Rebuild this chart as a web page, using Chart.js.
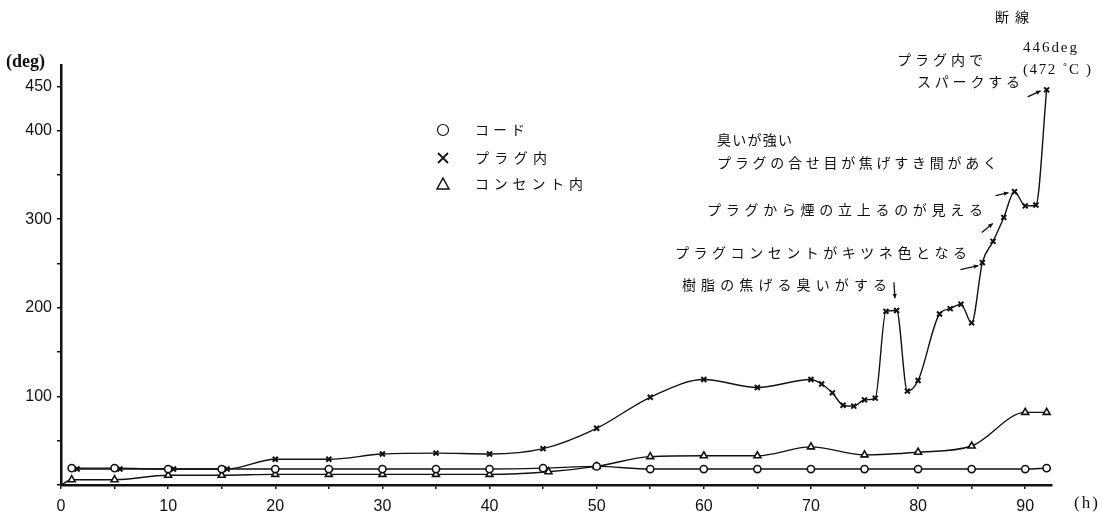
<!DOCTYPE html>
<html><head><meta charset="utf-8">
<script src="https://cdn.jsdelivr.net/npm/chart.js@4.4.1/dist/chart.umd.min.js"></script>
<style>html,body{margin:0;padding:0;background:#fff;} #wrap{width:1109px;height:518px;}</style>
</head><body><div id="wrap"><canvas id="c" width="1109" height="518"></canvas></div>
<script>
const seriesLabels = ['コード', 'プラグ内', 'コンセント内'];
const cordTimes   = [1, 5, 10, 15, 20, 25, 30, 35, 40, 45, 50, 55, 60, 65, 70, 75, 80, 85, 90, 92];
const cordValues  = [19, 19, 18, 18, 18, 18, 18, 18, 18, 19, 21, 18, 18, 18, 18, 18, 18, 18, 18, 19];
const plugTimes   = [1.5, 5.5, 10.5, 15.5, 20, 25, 30, 35, 40, 45, 50, 55, 60, 65, 70, 71, 72, 73, 74, 75, 76, 77, 78, 79, 80, 82, 83, 84, 85, 86, 87, 88, 89, 90, 91, 92];
const plugValues  = [18, 18, 18, 18, 29, 29, 35, 36, 35, 41, 64, 99, 119, 110, 119, 114, 104, 90, 89, 96, 98, 196, 197, 106, 118, 193, 199, 204, 183, 251, 275, 302, 331, 315, 316, 446];
const outletTimes = [0, 1, 5, 10, 15, 20, 25, 30, 35, 40, 45.5, 50, 55, 60, 65, 70, 75, 80, 85, 90, 92];
const outletValues= [0, 6, 6, 11, 11, 12, 12, 12, 12, 12, 15, 21, 32, 33, 33, 43, 34, 37, 44, 82, 82];
const xTickValues = [0, 5, 10, 15, 20, 25, 30, 35, 40, 45, 50, 55, 60, 65, 70, 75, 80, 85, 90];
const xTickLabels = ['0', '', '10', '', '20', '', '30', '', '40', '', '50', '', '60', '', '70', '', '80', '', '90'];
const yTickValues = [0, 50, 100, 150, 200, 250, 300, 350, 400, 450];
const yTickLabels = ['', '', '100', '', '200', '', '300', '', '400', '450'];
const xUnit = '(h)';
const yUnit = '(deg)';
const notes = {
  break: '断線', peak: '446deg', peakC: '(472 ˚C )',
  spark1: 'プラグ内で', spark2: 'スパークする',
  smell: '臭いが強い', seam: 'プラグの合せ目が焦げすき間があく',
  smoke: 'プラグから煙の立上るのが見える', color: 'プラグコンセントがキツネ色となる',
  resin: '樹脂の焦げる臭いがする'
};

const toXY = (ts, vs) => ts.map((t, i) => ({x: t, y: vs[i]}));

function drawArrow(ctx, x1, y1, x2, y2) {
  ctx.beginPath(); ctx.moveTo(x1, y1); ctx.lineTo(x2, y2); ctx.stroke();
  const a = Math.atan2(y2 - y1, x2 - x1), h = 5;
  ctx.beginPath();
  ctx.moveTo(x2, y2);
  ctx.lineTo(x2 - h * Math.cos(a - 0.45), y2 - h * Math.sin(a - 0.45));
  ctx.lineTo(x2 - h * Math.cos(a + 0.45), y2 - h * Math.sin(a + 0.45));
  ctx.closePath(); ctx.fill();
}
function spacedText(ctx, s, x, y, w) {
  ctx.letterSpacing = '0px';
  const m = ctx.measureText(s).width;
  const n = [...s].length;
  const sp = n > 1 && w ? Math.max(0, (w - m) / (n - 1)) : 0;
  ctx.letterSpacing = sp + 'px';
  ctx.fillText(s, x, y);
  ctx.letterSpacing = '0px';
}

const overlay = {
  id: 'overlay',
  afterDraw(chart) {
    const ctx = chart.ctx, xs = chart.scales.x, ys = chart.scales.y;
    const P = i => [xs.getPixelForValue(plugTimes[i]), ys.getPixelForValue(plugValues[i])];
    ctx.save();
    ctx.fillStyle = '#111'; ctx.strokeStyle = '#111'; ctx.lineWidth = 1.3;
    ctx.textBaseline = 'middle'; ctx.textAlign = 'left';
    // axis units
    ctx.font = 'bold 18px "Liberation Serif"';
    spacedText(ctx, yUnit, 6, 62, 0);
    ctx.font = '17px "Liberation Serif"';
    spacedText(ctx, xUnit, 1074, 504, 24);
    // legend
    const lx = 443, ly = [130, 158, 184];
    ctx.lineWidth = 1.2;
    ctx.beginPath(); ctx.arc(lx, ly[0], 5.5, 0, Math.PI * 2); ctx.stroke();
    ctx.lineWidth = 1.8;
    ctx.beginPath(); ctx.moveTo(lx - 5, ly[1] - 5); ctx.lineTo(lx + 5, ly[1] + 5);
    ctx.moveTo(lx + 5, ly[1] - 5); ctx.lineTo(lx - 5, ly[1] + 5); ctx.stroke();
    ctx.lineWidth = 1.5;
    ctx.beginPath(); ctx.moveTo(lx, ly[2] - 6); ctx.lineTo(lx + 6, ly[2] + 5); ctx.lineTo(lx - 6, ly[2] + 5); ctx.closePath(); ctx.stroke();
    ctx.font = '14px "Noto Sans CJK JP"';
    const lw = [50, 72, 108];
    seriesLabels.forEach((s, i) => spacedText(ctx, s, 475, ly[i], lw[i]));
    // annotations
    ctx.font = '14px "Noto Sans CJK JP"';
    spacedText(ctx, notes.break, 995, 17, 34);
    ctx.font = '15px "Liberation Serif"';
    spacedText(ctx, notes.peak, 1023, 48, 54);
    spacedText(ctx, notes.peakC, 1023, 70, 68);
    ctx.font = '14px "Noto Sans CJK JP"';
    spacedText(ctx, notes.spark1, 897, 60, 86);
    spacedText(ctx, notes.spark2, 917, 82, 103);
    spacedText(ctx, notes.smell, 717, 140, 75);
    spacedText(ctx, notes.seam, 717, 163, 280);
    spacedText(ctx, notes.smoke, 707, 210, 276);
    spacedText(ctx, notes.color, 675, 253, 292);
    spacedText(ctx, notes.resin, 682, 285, 205);
    ctx.lineWidth = 1.3;
    const n = plugTimes.length;
    let p = P(n - 1); drawArrow(ctx, p[0] - 19, p[1] + 7, p[0] - 6, p[1] + 1);
    p = P(plugTimes.indexOf(89)); drawArrow(ctx, p[0] - 19, p[1] + 4, p[0] - 6, p[1] + 1);
    p = P(plugTimes.indexOf(88)); drawArrow(ctx, p[0] - 22, p[1] + 15, p[0] - 11, p[1] + 6);
    p = P(plugTimes.indexOf(86)); drawArrow(ctx, p[0] - 22, p[1] + 7, p[0] - 4, p[1] + 3);
    p = P(plugTimes.indexOf(77)); drawArrow(ctx, p[0] + 8, p[1] - 29, p[0] + 9, p[1] - 13);
    ctx.restore();
  }
};

const common = {borderColor: '#111', borderWidth: 1.4, cubicInterpolationMode: 'monotone', pointBorderColor: '#111', pointBackgroundColor: '#fff'};
new Chart(document.getElementById('c'), {
  type: 'line',
  data: {
    datasets: [
      Object.assign({label: seriesLabels[0], data: toXY(cordTimes, cordValues), pointStyle: 'circle', pointRadius: 3.6, pointBorderWidth: 1.6}, common),
      Object.assign({label: seriesLabels[1], data: toXY(plugTimes, plugValues), pointStyle: 'crossRot', pointRadius: 3.5, pointBorderWidth: 2}, common),
      Object.assign({label: seriesLabels[2], data: toXY(outletTimes, outletValues), pointStyle: 'triangle', pointRadius: outletTimes.map((t, i) => i === 0 ? 0 : 4), pointBorderWidth: 1.6}, common)
    ]
  },
  options: {
    responsive: false, animation: false, devicePixelRatio: 1,
    layout: {padding: {top: 65, right: 57, left: 0, bottom: 0}},
    plugins: {legend: {display: false}, tooltip: {enabled: false}},
    scales: {
      x: {
        type: 'linear', min: 0, max: 92.5,
        afterBuildTicks: s => { s.ticks = xTickValues.map(v => ({value: v})); },
        afterFit: s => { s.height = 33; },
        ticks: {autoSkip: false, maxRotation: 0, padding: 8, color: '#111', font: {family: 'Liberation Sans', size: 16},
          callback: (v, i) => xTickLabels[i]},
        grid: {drawOnChartArea: false, drawTicks: true, tickLength: 4, color: '#111', lineWidth: 1.5},
        border: {display: true, color: '#111', width: 2.5}
      },
      y: {
        min: 0, max: 474,
        afterBuildTicks: s => { s.ticks = yTickValues.map(v => ({value: v})); },
        afterFit: s => { s.width = 61; },
        ticks: {autoSkip: false, padding: 5, color: '#111', font: {family: 'Liberation Sans', size: 16},
          callback: (v, i) => yTickLabels[i]},
        grid: {drawOnChartArea: false, drawTicks: true, tickLength: 4, color: '#111', lineWidth: 1.5},
        border: {display: true, color: '#111', width: 2.5}
      }
    }
  },
  plugins: [overlay]
});
</script></body></html>
